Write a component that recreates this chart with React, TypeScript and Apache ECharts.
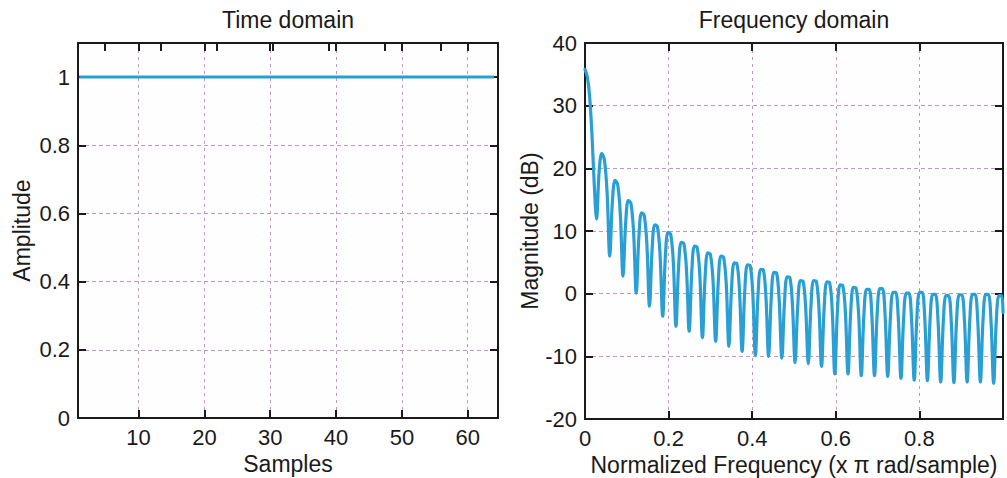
import { useEffect, useRef } from 'react';
import * as echarts from 'echarts';

// ---------- Time domain data ----------
const sampleIndex = [
  1, 2, 3, 4, 5, 6, 7, 8, 9, 10, 11, 12, 13, 14, 15, 16,
  17, 18, 19, 20, 21, 22, 23, 24, 25, 26, 27, 28, 29, 30, 31, 32,
  33, 34, 35, 36, 37, 38, 39, 40, 41, 42, 43, 44, 45, 46, 47, 48,
  49, 50, 51, 52, 53, 54, 55, 56, 57, 58, 59, 60, 61, 62, 63, 64,
];
const timeAmplitude = [
  1, 1, 1, 1, 1, 1, 1, 1, 1, 1, 1, 1, 1, 1, 1, 1,
  1, 1, 1, 1, 1, 1, 1, 1, 1, 1, 1, 1, 1, 1, 1, 1,
  1, 1, 1, 1, 1, 1, 1, 1, 1, 1, 1, 1, 1, 1, 1, 1,
  1, 1, 1, 1, 1, 1, 1, 1, 1, 1, 1, 1, 1, 1, 1, 1,
];
const timeXTicks = [10, 20, 30, 40, 50, 60];
const timeTopTicks = [4.9, 10, 13.4, 20, 21.9, 30, 30.4, 38.9, 40, 47.4, 50, 55.9, 60];
const amplitudeTicks = [0, 0.2, 0.4, 0.6, 0.8, 1];

// ---------- Frequency domain data ----------
// index 0: main-lobe peak at f = 0, then the 31 nulls
const nullFreq = [
  0, 0.0276, 0.0592, 0.0909, 0.1226, 0.1543, 0.1859, 0.2176, 0.2492, 0.2809, 0.3126,
  0.3442, 0.3759, 0.4076, 0.4392, 0.4709, 0.5026, 0.5342, 0.5659, 0.5976, 0.6292,
  0.6609, 0.6926, 0.7242, 0.7559, 0.7876, 0.8192, 0.8509, 0.8826, 0.9142, 0.9459, 0.9776,
];
const nullDb = [
  35.8, 11.9, 6.0, 2.8, 0.1, -2.0, -3.6, -5.2, -6.0, -7.0, -7.6,
  -8.4, -9.2, -9.8, -10.0, -10.3, -11.0, -11.2, -11.6, -12.8, -12.8,
  -13.1, -13.1, -13.2, -13.5, -13.8, -13.9, -14.1, -14.2, -14.1, -14.1, -14.3,
];
// values inside each lobe (at 1/5, 2/5, 3/5, 4/5 of the lobe)
const lobeDb = [
  [34.6, 31.5, 25.5, 17.5],
  [19.6, 22.4, 21.3, 16.1],
  [14.7, 18.1, 17.4, 12.6],
  [11.2, 14.9, 14.4, 9.8],
  [9.1, 12.9, 12.5, 8.0],
  [7.1, 11.0, 10.7, 6.2],
  [5.9, 9.8, 9.5, 5.1],
  [4.3, 8.2, 8.0, 3.7],
  [3.6, 7.6, 7.4, 3.1],
  [2.5, 6.5, 6.3, 2.1],
  [2.0, 6.0, 5.8, 1.6],
  [0.8, 4.9, 4.8, 0.5],
  [0.5, 4.6, 4.5, 0.2],
  [-0.2, 3.9, 3.8, -0.5],
  [-0.7, 3.4, 3.3, -1.0],
  [-1.4, 2.7, 2.6, -1.7],
  [-2.0, 2.1, 2.0, -2.2],
  [-2.0, 2.1, 2.0, -2.2],
  [-2.2, 1.9, 1.8, -2.4],
  [-2.7, 1.4, 1.3, -2.9],
  [-3.1, 1.0, 0.9, -3.2],
  [-3.4, 0.7, 0.7, -3.5],
  [-3.3, 0.8, 0.8, -3.4],
  [-3.9, 0.2, 0.2, -4.0],
  [-4.0, 0.1, 0.1, -4.1],
  [-3.9, 0.2, 0.2, -4.0],
  [-4.2, -0.1, -0.1, -4.3],
  [-4.4, -0.3, -0.3, -4.5],
  [-4.3, -0.2, -0.2, -4.4],
  [-4.2, -0.1, -0.1, -4.3],
  [-4.2, -0.1, -0.1, -4.3],
  [-4.4, -0.3, -0.3],
];
const endFreq = 1;
const endDb = -3.0;
const freqTicks = [0, 0.2, 0.4, 0.6, 0.8];

// ---------- styling ----------
const FONT = "'Liberation Sans', Arial, Helvetica, sans-serif";
const TEXT = '#1a1a1a';
const GRIDLINE = '#b99cb9';
const BLUE = '#2a9fd4';
const FS = 22;
const NAME_FS = 23;

function buildFreqData(): number[][] {
  const out: number[][] = [];
  for (let k = 0; k < nullFreq.length; k++) {
    const f0 = nullFreq[k];
    const f1 = k + 1 < nullFreq.length ? nullFreq[k + 1] : f0 + (nullFreq[k] - nullFreq[k - 1]);
    const step = (f1 - f0) / 5;
    out.push([f0, nullDb[k]]);
    lobeDb[k].forEach((v, j) => out.push([f0 + step * (j + 1), v]));
  }
  out.push([endFreq, endDb]);
  return out;
}

const axisLine = { show: true, onZero: false, lineStyle: { color: TEXT, width: 2 } };
const tick = (values?: number[]) => {
  const t: any = {
    show: true,
    inside: true,
    length: 8,
    lineStyle: { color: TEXT, width: 2 },
  };
  if (values) t.customValues = values;
  return t;
};
const label = (values?: number[]) => {
  const l: any = { fontSize: FS, color: TEXT, fontFamily: FONT, margin: 8 };
  if (values) l.customValues = values;
  return l;
};
const split = (dash: number[]) => ({
  show: true,
  lineStyle: { color: GRIDLINE, type: dash, width: 1 },
});
const nameStyle = { fontSize: NAME_FS, color: TEXT, fontFamily: FONT };

export default function App() {
  const ref = useRef<HTMLDivElement>(null);
  useEffect(() => {
    const chart = echarts.init(ref.current!, null, { renderer: 'svg' });
    const freqData = buildFreqData();
    const timeData = sampleIndex.map((s, i) => [s, timeAmplitude[i]]);
    chart.setOption({
      animation: false,
      backgroundColor: '#ffffff',
      graphic: [
        {
          type: 'text',
          x: 288,
          y: 20,
          style: {
            text: 'Time domain',
            align: 'center',
            verticalAlign: 'middle',
            fontSize: NAME_FS,
            fontFamily: FONT,
            fill: TEXT,
          },
        },
        {
          type: 'text',
          x: 794,
          y: 20,
          style: {
            text: 'Frequency domain',
            align: 'center',
            verticalAlign: 'middle',
            fontSize: NAME_FS,
            fontFamily: FONT,
            fill: TEXT,
          },
        },
      ],
      grid: [
        {
          left: 78,
          top: 43,
          width: 420,
          height: 375,
          show: true,
          backgroundColor: '#fffefe',
          borderWidth: 0,
          containLabel: false,
          outerBoundsMode: 'none',
        },
        {
          left: 585,
          top: 43,
          width: 418,
          height: 376,
          show: true,
          backgroundColor: '#fffefe',
          borderWidth: 0,
          containLabel: false,
          outerBoundsMode: 'none',
        },
      ],
      xAxis: [
        {
          gridIndex: 0,
          type: 'value',
          min: 0.8,
          max: 64.6,
          position: 'bottom',
          axisLine,
          axisTick: tick(timeXTicks),
          axisLabel: label(timeXTicks),
          splitLine: split([3, 4]),
          name: 'Samples',
          nameLocation: 'middle',
          nameGap: 33,
          nameTextStyle: nameStyle,
        },
        {
          gridIndex: 0,
          type: 'value',
          min: 0.8,
          max: 64.6,
          position: 'top',
          axisLine,
          axisTick: tick(timeTopTicks),
          axisLabel: { show: false },
          splitLine: { show: false },
        },
        {
          gridIndex: 1,
          type: 'value',
          min: 0,
          max: 1,
          position: 'bottom',
          axisLine,
          axisTick: tick(freqTicks),
          axisLabel: label(freqTicks),
          splitLine: split([3, 4]),
          name: 'Normalized Frequency (x π rad/sample)',
          nameLocation: 'middle',
          nameGap: 33,
          nameTextStyle: nameStyle,
        },
        {
          gridIndex: 1,
          type: 'value',
          min: 0,
          max: 1,
          position: 'top',
          axisLine,
          axisTick: tick(freqTicks),
          axisLabel: { show: false },
          splitLine: { show: false },
        },
      ],
      yAxis: [
        {
          gridIndex: 0,
          type: 'value',
          min: 0,
          max: 1.1,
          position: 'left',
          axisLine,
          axisTick: tick(amplitudeTicks),
          axisLabel: label(amplitudeTicks),
          splitLine: split([4, 3]),
          name: 'Amplitude',
          nameLocation: 'middle',
          nameRotate: 90,
          nameGap: 45,
          nameTextStyle: nameStyle,
        },
        {
          gridIndex: 0,
          type: 'value',
          min: 0,
          max: 1.1,
          position: 'right',
          axisLine,
          axisTick: tick(amplitudeTicks),
          axisLabel: { show: false },
          splitLine: { show: false },
        },
        {
          gridIndex: 1,
          type: 'value',
          min: -20,
          max: 40,
          interval: 10,
          position: 'left',
          axisLine,
          axisTick: tick(),
          axisLabel: label(),
          splitLine: split([4, 3]),
          name: 'Magnitude (dB)',
          nameLocation: 'middle',
          nameRotate: 90,
          nameGap: 43,
          nameTextStyle: nameStyle,
        },
        {
          gridIndex: 1,
          type: 'value',
          min: -20,
          max: 40,
          interval: 10,
          position: 'right',
          axisLine,
          axisTick: tick(),
          axisLabel: { show: false },
          splitLine: { show: false },
        },
      ],
      series: [
        {
          type: 'line',
          xAxisIndex: 0,
          yAxisIndex: 0,
          data: timeData,
          showSymbol: false,
          symbol: 'none',
          lineStyle: { color: BLUE, width: 3 },
          z: 5,
        },
        {
          type: 'line',
          xAxisIndex: 2,
          yAxisIndex: 2,
          data: freqData,
          showSymbol: false,
          symbol: 'none',
          clip: true,
          smooth: 0.35,
          lineStyle: { color: BLUE, width: 3.2, join: 'round', cap: 'round' },
          z: 5,
        },
      ],
    });
    return () => chart.dispose();
  }, []);
  return (
    <div
      ref={ref}
      style={{ position: 'fixed', left: 0, top: 0, width: 1007, height: 478, background: '#fff' }}
    />
  );
}
